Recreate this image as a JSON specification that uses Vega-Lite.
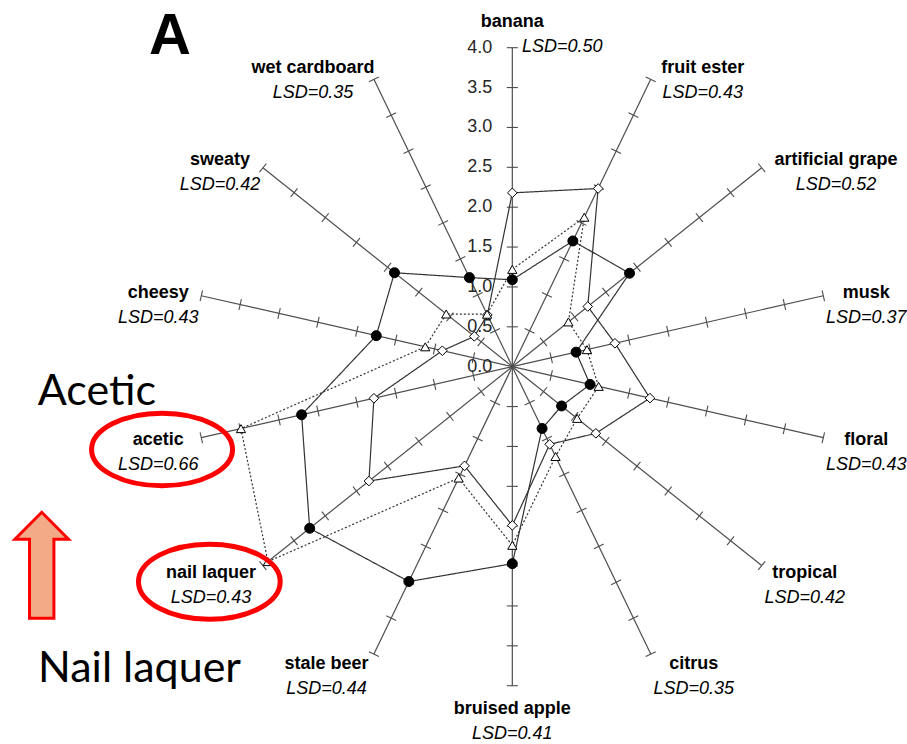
{
  "$schema": "https://vega.github.io/schema/vega-lite/v6.json",
  "width": 907,
  "height": 744,
  "autosize": {"type": "none"},
  "padding": 0,
  "background": "white",
  "config": {"view": {"stroke": null}, "text": {"font": "Liberation Sans"}},
  "datasets": {
    "attrs": [
      {"attribute": "banana", "k": 0, "LSD": 0.50, "circle": 1.09, "diamond": 2.18, "triangle": 1.22, "ticks": [0.5, 1, 1.5, 2, 2.5, 3, 3.5, 4]},
      {"attribute": "fruit ester", "k": 1, "LSD": 0.43, "circle": 1.75, "diamond": 2.48, "triangle": 2.08, "ticks": [0.5, 1, 1.5, 2, 2.5, 3, 3.5, 4]},
      {"attribute": "artificial grape", "k": 2, "LSD": 0.52, "circle": 1.88, "diamond": 1.21, "triangle": 0.90, "ticks": [0.5, 1, 1.5, 2, 2.5, 3, 3.5, 4]},
      {"attribute": "musk", "k": 3, "LSD": 0.37, "circle": 0.82, "diamond": 1.32, "triangle": 0.96, "ticks": [0.5, 1, 1.5, 2, 2.5, 3, 3.5, 4]},
      {"attribute": "floral", "k": 4, "LSD": 0.43, "circle": 1.00, "diamond": 1.77, "triangle": 1.11, "ticks": [0.5, 1, 1.5, 2, 2.5, 3, 3.5, 4]},
      {"attribute": "tropical", "k": 5, "LSD": 0.42, "circle": 0.79, "diamond": 1.34, "triangle": 1.04, "ticks": [0.5, 1, 1.5, 2, 2.5, 3, 3.5, 4]},
      {"attribute": "citrus", "k": 6, "LSD": 0.35, "circle": 0.86, "diamond": 1.08, "triangle": 1.25, "ticks": [0.5, 1, 1.5, 2, 2.5, 3, 3.5, 4]},
      {"attribute": "bruised apple", "k": 7, "LSD": 0.41, "circle": 2.47, "diamond": 1.99, "triangle": 2.24, "ticks": [0.5, 1, 1.5, 2, 2.5, 3, 3.5, 4]},
      {"attribute": "stale beer", "k": 8, "LSD": 0.44, "circle": 2.99, "diamond": 1.38, "triangle": 1.55, "ticks": [0.5, 1, 1.5, 2, 2.5, 3, 3.5, 4]},
      {"attribute": "nail laquer", "k": 9, "LSD": 0.43, "circle": 3.25, "diamond": 2.30, "triangle": 3.92, "ticks": [0.5, 1, 1.5, 2, 2.5, 3, 3.5, 4]},
      {"attribute": "acetic", "k": 10, "LSD": 0.66, "circle": 2.71, "diamond": 1.78, "triangle": 3.49, "ticks": [0.5, 1, 1.5, 2, 2.5, 3, 3.5, 4]},
      {"attribute": "cheesy", "k": 11, "LSD": 0.43, "circle": 1.75, "diamond": 0.90, "triangle": 1.12, "ticks": [0.5, 1, 1.5, 2, 2.5, 3, 3.5, 4]},
      {"attribute": "sweaty", "k": 12, "LSD": 0.42, "circle": 1.89, "diamond": 0.61, "triangle": 1.06, "ticks": [0.5, 1, 1.5, 2, 2.5, 3, 3.5, 4]},
      {"attribute": "wet cardboard", "k": 13, "LSD": 0.35, "circle": 1.24, "diamond": 0.72, "triangle": 0.73, "ticks": [0.5, 1, 1.5, 2, 2.5, 3, 3.5, 4]}
    ],
    "scale": [
      {"v": 0.0, "label": "0.0"}, {"v": 0.5, "label": "0.5"}, {"v": 1.0, "label": "1.0"},
      {"v": 1.5, "label": "1.5"}, {"v": 2.0, "label": "2.0"}, {"v": 2.5, "label": "2.5"},
      {"v": 3.0, "label": "3.0"}, {"v": 3.5, "label": "3.5"}, {"v": 4.0, "label": "4.0"}
    ],
    "one": [{"id": 1}]
  },
  "layer": [
    {
      "data": {"name": "attrs"},
      "transform": [
        {"calculate": "datum.k*2*PI/14", "as": "t"},
        {"calculate": "0", "as": "x"},
        {"calculate": "0", "as": "y"},
        {"calculate": "4*sin(datum.t)", "as": "ex"},
        {"calculate": "4*cos(datum.t)", "as": "ey"}
      ],
      "mark": {"type": "rule", "color": "#4d4d4d", "strokeWidth": 1.2},
      "encoding": {
        "x": {"field": "x", "type": "quantitative", "scale": {"domain": [-6.424, 4.949], "nice": false, "zero": false}, "axis": null},
        "y": {"field": "y", "type": "quantitative", "scale": {"domain": [-4.731, 4.598], "nice": false, "zero": false}, "axis": null},
        "x2": {"field": "ex"},
        "y2": {"field": "ey"}
      }
    },
    {
      "data": {"name": "attrs"},
      "transform": [
        {"flatten": ["ticks"], "as": ["v"]},
        {"calculate": "datum.k*2*PI/14", "as": "t"},
        {"calculate": "datum.v*sin(datum.t) - 0.069*cos(datum.t)", "as": "x"},
        {"calculate": "datum.v*cos(datum.t) + 0.069*sin(datum.t)", "as": "y"},
        {"calculate": "datum.v*sin(datum.t) + 0.069*cos(datum.t)", "as": "xe"},
        {"calculate": "datum.v*cos(datum.t) - 0.069*sin(datum.t)", "as": "ye"}
      ],
      "mark": {"type": "rule", "color": "#4d4d4d", "strokeWidth": 1.1},
      "encoding": {
        "x": {"field": "x", "type": "quantitative", "scale": {"domain": [-6.424, 4.949], "nice": false, "zero": false}, "axis": null},
        "y": {"field": "y", "type": "quantitative", "scale": {"domain": [-4.731, 4.598], "nice": false, "zero": false}, "axis": null},
        "x2": {"field": "xe"},
        "y2": {"field": "ye"}
      }
    },
    {
      "data": {"name": "scale"},
      "transform": [{"calculate": "-0.24", "as": "x"}],
      "mark": {"type": "text", "align": "right", "baseline": "middle", "fontSize": 18, "color": "#262626", "dx": -1},
      "encoding": {
        "x": {"field": "x", "type": "quantitative", "scale": {"domain": [-6.424, 4.949], "nice": false, "zero": false}, "axis": null},
        "y": {"field": "v", "type": "quantitative", "scale": {"domain": [-4.731, 4.598], "nice": false, "zero": false}, "axis": null},
        "text": {"field": "label"}
      }
    },
    {
      "data": {"name": "attrs"},
      "transform": [
        {"fold": ["circle", "diamond", "triangle"], "as": ["series", "value"]},
        {"calculate": "datum.k*2*PI/14", "as": "t"},
        {"calculate": "datum.value*sin(datum.t)", "as": "x"},
        {"calculate": "datum.value*cos(datum.t)", "as": "y"}
      ],
      "mark": {"type": "line", "interpolate": "linear-closed", "color": "#333333", "strokeWidth": 1.2},
      "encoding": {
        "x": {"field": "x", "type": "quantitative", "scale": {"domain": [-6.424, 4.949], "nice": false, "zero": false}, "axis": null},
        "y": {"field": "y", "type": "quantitative", "scale": {"domain": [-4.731, 4.598], "nice": false, "zero": false}, "axis": null},
        "detail": {"field": "series", "type": "nominal"},
        "order": {"field": "k", "type": "quantitative"},
        "strokeDash": {"field": "series", "type": "nominal", "scale": {"domain": ["circle", "diamond", "triangle"], "range": [[1, 0], [1, 0], [2, 2]]}, "legend": null}
      }
    },
    {
      "data": {"name": "attrs"},
      "transform": [
        {"fold": ["circle", "diamond", "triangle"], "as": ["series", "value"]},
        {"calculate": "datum.k*2*PI/14", "as": "t"},
        {"calculate": "datum.value*sin(datum.t)", "as": "x"},
        {"calculate": "datum.value*cos(datum.t)", "as": "y"}
      ],
      "mark": {"type": "point", "filled": true, "stroke": "black", "strokeWidth": 1, "opacity": 1},
      "encoding": {
        "x": {"field": "x", "type": "quantitative", "scale": {"domain": [-6.424, 4.949], "nice": false, "zero": false}, "axis": null},
        "y": {"field": "y", "type": "quantitative", "scale": {"domain": [-4.731, 4.598], "nice": false, "zero": false}, "axis": null},
        "shape": {"field": "series", "type": "nominal", "scale": {"domain": ["circle", "diamond", "triangle"], "range": ["circle", "diamond", "triangle-up"]}, "legend": null},
        "fill": {"field": "series", "type": "nominal", "scale": {"domain": ["circle", "diamond", "triangle"], "range": ["black", "white", "white"]}, "legend": null},
        "size": {"field": "series", "type": "nominal", "scale": {"domain": ["circle", "diamond", "triangle"], "range": [100, 85, 130]}, "legend": null}
      }
    },
    {
      "data": {"name": "attrs"},
      "transform": [
        {"calculate": "datum.k*2*PI/14", "as": "t"},
        {"calculate": "max(length(datum.attribute)*8.9, 80)/2", "as": "hw"},
        {"calculate": "(datum.k==0 || datum.k==7) ? 0 : (sin(datum.t) > 0 ? 1 : -1)*(datum.hw + 3)", "as": "ox"},
        {"calculate": "datum.k==0 ? -12.7 : (datum.k==7 ? 36 : 12 - 12*cos(datum.t))", "as": "oy"},
        {"calculate": "4*sin(datum.t) + datum.ox/79.75", "as": "x"},
        {"calculate": "4*cos(datum.t) - (datum.oy - 12.5)/79.75", "as": "y"}
      ],
      "mark": {"type": "text", "align": "center", "baseline": "middle", "fontSize": 18, "fontWeight": "bold", "color": "black"},
      "encoding": {
        "x": {"field": "x", "type": "quantitative", "scale": {"domain": [-6.424, 4.949], "nice": false, "zero": false}, "axis": null},
        "y": {"field": "y", "type": "quantitative", "scale": {"domain": [-4.731, 4.598], "nice": false, "zero": false}, "axis": null},
        "text": {"field": "attribute", "type": "nominal"}
      }
    },
    {
      "data": {"name": "attrs"},
      "transform": [
        {"calculate": "datum.k*2*PI/14", "as": "t"},
        {"calculate": "max(length(datum.attribute)*8.9, 80)/2", "as": "hw"},
        {"calculate": "datum.k==0 ? 50 : (datum.k==7 ? 0 : (sin(datum.t) > 0 ? 1 : -1)*(datum.hw + 3))", "as": "ox"},
        {"calculate": "datum.k==0 ? -12.7 : (datum.k==7 ? 36 : 12 - 12*cos(datum.t))", "as": "oy"},
        {"calculate": "4*sin(datum.t) + datum.ox/79.75", "as": "x"},
        {"calculate": "4*cos(datum.t) - (datum.oy + 12.5)/79.75", "as": "y"},
        {"calculate": "'LSD=' + format(datum.LSD, '.2f')", "as": "lsdText"}
      ],
      "mark": {"type": "text", "align": "center", "baseline": "middle", "fontSize": 18, "fontStyle": "italic", "color": "black"},
      "encoding": {
        "x": {"field": "x", "type": "quantitative", "scale": {"domain": [-6.424, 4.949], "nice": false, "zero": false}, "axis": null},
        "y": {"field": "y", "type": "quantitative", "scale": {"domain": [-4.731, 4.598], "nice": false, "zero": false}, "axis": null},
        "text": {"field": "lsdText", "type": "nominal"}
      }
    },
    {
      "data": {"name": "one"},
      "mark": {"type": "point", "filled": false, "stroke": "#FF0000", "strokeWidth": 5, "opacity": 1, "size": 19881,
        "shape": "M 1 0 C 1 0.2844 0.5523 0.515 0 0.515 C -0.5523 0.515 -1 0.2844 -1 0 C -1 -0.2844 -0.5523 -0.515 0 -0.515 C 0.5523 -0.515 1 -0.2844 1 0 Z"},
      "encoding": {
        "x": {"datum": -4.392, "type": "quantitative", "scale": {"domain": [-6.424, 4.949], "nice": false, "zero": false}, "axis": null},
        "y": {"datum": -1.038, "type": "quantitative", "scale": {"domain": [-4.731, 4.598], "nice": false, "zero": false}, "axis": null}
      }
    },
    {
      "data": {"name": "one"},
      "mark": {"type": "point", "filled": false, "stroke": "#FF0000", "strokeWidth": 5, "opacity": 1, "size": 20079,
        "shape": "M 1 0 C 1 0.2927 0.5523 0.53 0 0.53 C -0.5523 0.53 -1 0.2927 -1 0 C -1 -0.2927 -0.5523 -0.53 0 -0.53 C 0.5523 -0.53 1 -0.2927 1 0 Z"},
      "encoding": {
        "x": {"datum": -3.799, "type": "quantitative", "scale": {"domain": [-6.424, 4.949], "nice": false, "zero": false}, "axis": null},
        "y": {"datum": -2.696, "type": "quantitative", "scale": {"domain": [-4.731, 4.598], "nice": false, "zero": false}, "axis": null}
      }
    },
    {
      "data": {"name": "one"},
      "mark": {"type": "point", "filled": true, "fill": "#F2AB86", "stroke": "#FF0000", "strokeWidth": 3, "opacity": 1, "size": 11236,
        "shape": "M 0 -1 L 0.506 -0.49 L 0.23 -0.49 L 0.23 1 L -0.23 1 L -0.23 -0.49 L -0.506 -0.49 Z"},
      "encoding": {
        "x": {"datum": -5.901, "type": "quantitative", "scale": {"domain": [-6.424, 4.949], "nice": false, "zero": false}, "axis": null},
        "y": {"datum": -2.49, "type": "quantitative", "scale": {"domain": [-4.731, 4.598], "nice": false, "zero": false}, "axis": null}
      }
    },
    {
      "data": {"name": "one"},
      "mark": {"type": "text", "text": "Acetic", "align": "left", "baseline": "alphabetic", "font": "Lato", "fontSize": 43, "color": "black"},
      "encoding": {
        "x": {"datum": -5.951, "type": "quantitative", "scale": {"domain": [-6.424, 4.949], "nice": false, "zero": false}, "axis": null},
        "y": {"datum": -0.48, "type": "quantitative", "scale": {"domain": [-4.731, 4.598], "nice": false, "zero": false}, "axis": null}
      }
    },
    {
      "data": {"name": "one"},
      "mark": {"type": "text", "text": "Nail laquer", "align": "left", "baseline": "alphabetic", "font": "Lato", "fontSize": 43, "color": "black"},
      "encoding": {
        "x": {"datum": -5.947, "type": "quantitative", "scale": {"domain": [-6.424, 4.949], "nice": false, "zero": false}, "axis": null},
        "y": {"datum": -3.95, "type": "quantitative", "scale": {"domain": [-4.731, 4.598], "nice": false, "zero": false}, "axis": null}
      }
    },
    {
      "data": {"name": "one"},
      "mark": {"type": "text", "text": "A", "align": "center", "baseline": "alphabetic", "font": "Liberation Sans", "fontSize": 58, "fontWeight": "bold", "color": "black"},
      "encoding": {
        "x": {"datum": -4.292, "type": "quantitative", "scale": {"domain": [-6.424, 4.949], "nice": false, "zero": false}, "axis": null},
        "y": {"datum": 3.92, "type": "quantitative", "scale": {"domain": [-4.731, 4.598], "nice": false, "zero": false}, "axis": null}
      }
    }
  ]
}
